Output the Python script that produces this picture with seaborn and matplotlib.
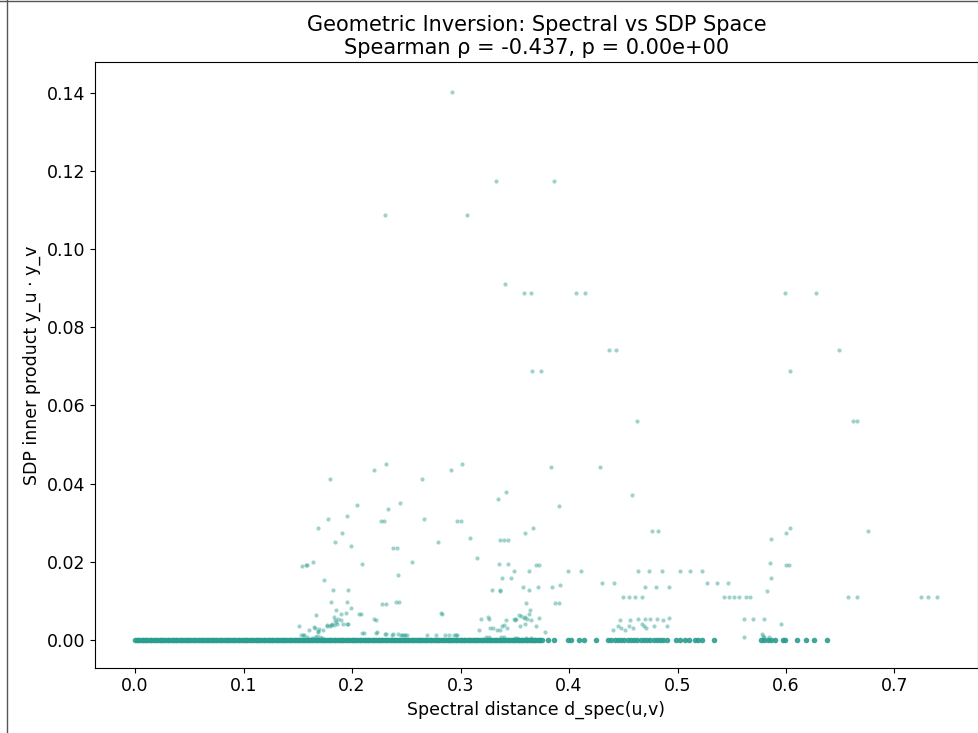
import matplotlib
matplotlib.use("Agg")
import matplotlib.pyplot as plt
from matplotlib.lines import Line2D
import pandas as pd
import seaborn as sns

# scattered (u,v) pairs
spec_dist = [
    0.2920, 0.3330, 0.3857, 0.2302, 0.3064, 0.3413,
    0.3581, 0.3652, 0.4065, 0.4145, 0.5987, 0.6281,
    0.4371, 0.4429, 0.6490, 0.3660, 0.3737, 0.6033,
    0.4622, 0.6614, 0.6657, 0.3832, 0.4289,
    0.2314, 0.3009, 0.2201, 0.2914, 0.1794, 0.2642,
    0.3423, 0.4582, 0.3345, 0.3912,
    0.2048, 0.2445, 0.2330, 0.1775, 0.1950, 0.2666,
    0.2265, 0.2296, 0.2969, 0.3000,
    0.1690, 0.3670, 0.6040, 0.1910, 0.3594, 0.6000,
    0.4766, 0.4821, 0.6758, 0.3085,
    0.3360, 0.3398, 0.3434, 0.5860, 0.1843, 0.2788, 0.1986,
    0.2381, 0.2411, 0.3156, 0.2553, 0.1644,
    0.1537, 0.1576, 0.1589, 0.2094,
    0.3350, 0.3435, 0.5850, 0.3693, 0.3720, 0.6000, 0.6030,
    0.3490, 0.3627, 0.3989, 0.4112,
    0.4637, 0.4738, 0.4858, 0.5020, 0.5112, 0.5225,
    0.2421, 0.3381, 0.3467, 0.5865, 0.1741,
    0.4300, 0.4414, 0.5271, 0.5363, 0.5467,
    0.3575, 0.3842, 0.3921, 0.3712, 0.3627, 0.3367, 0.5822,
    0.4700, 0.4798, 0.4920, 0.1821, 0.1965, 0.3290, 0.3361,
    0.4500, 0.4553, 0.4608, 0.4669,
    0.5433, 0.5479, 0.5525, 0.5571, 0.5632, 0.5669,
    0.6575, 0.6651, 0.7248, 0.7309, 0.7392,
    0.3606, 0.3874, 0.3904,
    0.1803, 0.1956, 0.2277, 0.2314, 0.2402, 0.2433,
    0.3636, 0.1671, 0.1852, 0.1895, 0.1944, 0.1993, 0.2060, 0.2078,
    0.1834, 0.1868, 0.1853, 0.1816, 0.1766, 0.1800, 0.1913, 0.1956,
    0.2204, 0.2219, 0.2822, 0.2831, 0.3254, 0.3260,
    0.3416, 0.3507, 0.3592, 0.3557, 0.3581, 0.3504, 0.3645, 0.3719,
    0.3590, 0.3551, 0.3382, 0.3428, 0.3694, 0.3774,
    0.3189, 0.3296, 0.3363, 0.3402,
    0.4469, 0.4566, 0.4637, 0.4698, 0.4744, 0.4808, 0.4866, 0.4918,
    0.4454, 0.4551, 0.4689, 0.4781, 0.4903, 0.4408, 0.4515,
    0.4475, 0.4585, 0.4714, 0.4677,
    0.5613, 0.5696, 0.5793, 0.5950, 0.5614,
    0.1509, 0.1601, 0.1662, 0.1687, 0.1699,
    0.2087, 0.2109, 0.2219, 0.2228, 0.2310,
    0.2381, 0.2420, 0.2448, 0.2460, 0.2476, 0.2490, 0.2509,
    0.1530, 0.1545, 0.1560,
    0.2694, 0.2777, 0.2853, 0.2893, 0.2938, 0.2955, 0.2969,
    0.1580, 0.1630, 0.1660, 0.1700, 0.1720, 0.1680,
    0.1846, 0.1858, 0.1898, 0.1959, 0.1770, 0.1806, 0.1830,
    0.1653, 0.1690, 0.1729, 0.2305, 0.2372,
    0.3168, 0.3275, 0.3339, 0.3496, 0.3535, 0.3612, 0.3627,
    0.3232, 0.3260, 0.3370, 0.3400, 0.3500, 0.3520, 0.3600, 0.3650,
    0.5780, 0.5790, 0.5800, 0.5840,
]
sdp_inner = [
    0.1404, 0.1175, 0.1175, 0.1087, 0.1087, 0.0911,
    0.0887, 0.0887, 0.0887, 0.0887, 0.0887, 0.0887,
    0.0743, 0.0743, 0.0743, 0.0687, 0.0687, 0.0687,
    0.0559, 0.0559, 0.0559, 0.0442, 0.0442,
    0.0451, 0.0451, 0.0434, 0.0434, 0.0411, 0.0411,
    0.0377, 0.0370, 0.0361, 0.0343,
    0.0344, 0.0350, 0.0334, 0.0310, 0.0317, 0.0310,
    0.0303, 0.0303, 0.0303, 0.0303,
    0.0285, 0.0285, 0.0285, 0.0273, 0.0272, 0.0272,
    0.0279, 0.0279, 0.0279, 0.0260,
    0.0256, 0.0256, 0.0256, 0.0257, 0.0251, 0.0251, 0.0240,
    0.0234, 0.0234, 0.0210, 0.0200, 0.0200,
    0.0189, 0.0192, 0.0192, 0.0193,
    0.0195, 0.0195, 0.0196, 0.0190, 0.0190, 0.0190, 0.0190,
    0.0175, 0.0175, 0.0175, 0.0175,
    0.0175, 0.0175, 0.0175, 0.0175, 0.0175, 0.0175,
    0.0166, 0.0157, 0.0157, 0.0157, 0.0153,
    0.0146, 0.0146, 0.0146, 0.0146, 0.0146,
    0.0134, 0.0134, 0.0140, 0.0134, 0.0128, 0.0125, 0.0125,
    0.0134, 0.0134, 0.0134, 0.0128, 0.0128, 0.0126, 0.0126,
    0.0108, 0.0108, 0.0108, 0.0108,
    0.0108, 0.0108, 0.0108, 0.0108, 0.0108, 0.0108,
    0.0108, 0.0108, 0.0108, 0.0108, 0.0108,
    0.0095, 0.0094, 0.0094,
    0.0096, 0.0096, 0.0092, 0.0092, 0.0096, 0.0096,
    0.0076, 0.0062, 0.0076, 0.0067, 0.0069, 0.0080, 0.0067, 0.0065,
    0.0058, 0.0052, 0.0045, 0.0040, 0.0036, 0.0036, 0.0041, 0.0041,
    0.0053, 0.0050, 0.0069, 0.0065, 0.0058, 0.0052,
    0.0050, 0.0052, 0.0058, 0.0060, 0.0056, 0.0050, 0.0050, 0.0055,
    0.0041, 0.0035, 0.0035, 0.0029, 0.0035, 0.0020,
    0.0052, 0.0030, 0.0024, 0.0037,
    0.0050, 0.0050, 0.0052, 0.0053, 0.0052, 0.0054, 0.0050, 0.0055,
    0.0035, 0.0035, 0.0035, 0.0035, 0.0035, 0.0024, 0.0024,
    0.0030, 0.0030, 0.0030, 0.0041,
    0.0052, 0.0052, 0.0052, 0.0041, 0.0006,
    0.0035, 0.0024, 0.0031, 0.0021, 0.0027,
    0.0018, 0.0016, 0.0016, 0.0020, 0.0014,
    0.0014, 0.0014, 0.0013, 0.0013, 0.0013, 0.0013, 0.0013,
    0.0013, 0.0013, 0.0013,
    0.0012, 0.0012, 0.0012, 0.0012, 0.0012, 0.0012, 0.0012,
    0.0008, 0.0005, 0.0008, 0.0006, 0.0004, 0.0010,
    0.0050, 0.0041, 0.0050, 0.0041, 0.0037, 0.0037, 0.0037,
    0.0033, 0.0020, 0.0024, 0.0014, 0.0013,
    0.0024, 0.0029, 0.0024, 0.0052, 0.0063, 0.0052, 0.0067,
    0.0008, 0.0008, 0.0008, 0.0008, 0.0005, 0.0005, 0.0005, 0.0005,
    0.0015, 0.0010, 0.0008, 0.0006,
]

# pairs whose SDP inner product is zero (the dense band along y = 0)
zero_dist = [
    0.000, 0.003, 0.006, 0.009, 0.012, 0.015, 0.018, 0.021, 0.024, 0.027,
    0.030, 0.033, 0.036, 0.039, 0.042, 0.045, 0.048, 0.051, 0.054, 0.057,
    0.060, 0.063, 0.066, 0.069, 0.072, 0.075, 0.078, 0.081, 0.084, 0.087,
    0.090, 0.093, 0.096, 0.099, 0.102, 0.105, 0.108, 0.111, 0.114, 0.117,
    0.120, 0.123, 0.126, 0.129, 0.132, 0.135, 0.138, 0.141, 0.144, 0.147,
    0.150, 0.153, 0.156, 0.159, 0.162, 0.165, 0.168, 0.171, 0.174, 0.177,
    0.180, 0.183, 0.186, 0.189, 0.192, 0.195, 0.198, 0.201, 0.204, 0.207,
    0.210, 0.213, 0.216, 0.219, 0.222, 0.225, 0.228, 0.231, 0.234, 0.237,
    0.240, 0.243, 0.246, 0.249, 0.252, 0.255, 0.258, 0.261, 0.264, 0.267,
    0.270, 0.273, 0.276, 0.279, 0.282, 0.285, 0.288, 0.291, 0.294, 0.297,
    0.300, 0.303, 0.306, 0.309, 0.312, 0.315, 0.318, 0.321, 0.324, 0.327,
    0.330, 0.333, 0.336, 0.339, 0.342, 0.345, 0.348, 0.351, 0.354, 0.357,
    0.360, 0.363, 0.366, 0.369, 0.372, 0.375,
    0.0015, 0.0045, 0.0075, 0.0105, 0.0135, 0.0165, 0.0195, 0.0225, 0.0255, 0.0285,
    0.0315, 0.0345, 0.0375, 0.0405, 0.0435, 0.0465, 0.0495, 0.0525, 0.0555, 0.0585,
    0.0615, 0.0645, 0.0675, 0.0705, 0.0735, 0.0765, 0.0795, 0.0825, 0.0855, 0.0885,
    0.0915, 0.0945, 0.0975, 0.1005, 0.1035, 0.1065, 0.1095, 0.1125, 0.1155, 0.1185,
    0.1215, 0.1245, 0.1275, 0.1305, 0.1335, 0.1365, 0.1395, 0.1425, 0.1455, 0.1485,
    0.1515, 0.1545, 0.1575, 0.1605, 0.1635, 0.1665, 0.1695, 0.1725, 0.1755, 0.1785,
    0.1815, 0.1845, 0.1875, 0.1905, 0.1935, 0.1965, 0.1995, 0.2025, 0.2055, 0.2085,
    0.2115, 0.2145, 0.2175, 0.2205, 0.2235, 0.2265, 0.2295, 0.2325, 0.2355, 0.2385,
    0.2415, 0.2445, 0.2475, 0.2505, 0.2535, 0.2565, 0.2595, 0.2625, 0.2655, 0.2685,
    0.2715, 0.2745, 0.2775, 0.2805, 0.2835, 0.2865, 0.2895, 0.2925, 0.2955, 0.2985,
    0.3015, 0.3045, 0.3075, 0.3105, 0.3135, 0.3165, 0.3195, 0.3225, 0.3255, 0.3285,
    0.3315, 0.3345, 0.3375, 0.3405, 0.3435, 0.3465, 0.3495, 0.3525, 0.3555, 0.3585,
    0.3615, 0.3645, 0.3675, 0.3705, 0.3735,
    0.381, 0.386, 0.399, 0.402, 0.409, 0.414, 0.425,
    0.436, 0.439, 0.442, 0.445, 0.448, 0.451, 0.454, 0.457, 0.460, 0.463,
    0.466, 0.469, 0.472, 0.475, 0.478, 0.481, 0.484, 0.487, 0.490,
    0.499, 0.502, 0.507, 0.511, 0.516, 0.519, 0.523, 0.534,
    0.577, 0.580, 0.583, 0.586, 0.590, 0.597, 0.599, 0.610, 0.618, 0.626, 0.638,
]

teal = "#2a9d8f"

pts = pd.DataFrame({"d_spec": spec_dist, "inner": sdp_inner})
zero = pd.DataFrame({"d_spec": zero_dist, "inner": [0.0] * len(zero_dist)})

plt.rcParams["font.family"] = ["DejaVu Sans"]
fig = plt.figure(figsize=(9.79, 7.33), dpi=100)
ax = fig.add_axes([0.097, 0.089, 0.902, 0.826])

sns.scatterplot(data=zero, x="d_spec", y="inner", ax=ax, color=teal,
                s=16, alpha=0.9, linewidth=0)
sns.scatterplot(data=pts, x="d_spec", y="inner", ax=ax, color=teal,
                s=9, alpha=0.45, linewidth=0)

ax.set_xlim(-0.037, 0.777)
ax.set_ylim(-0.0072, 0.1479)
ax.set_xticks([0.0, 0.1, 0.2, 0.3, 0.4, 0.5, 0.6, 0.7])
ax.set_yticks([0.00, 0.02, 0.04, 0.06, 0.08, 0.10, 0.12, 0.14])
ax.set_yticklabels(["0.00", "0.02", "0.04", "0.06", "0.08", "0.10", "0.12", "0.14"])
ax.tick_params(labelsize=12.5)
ax.set_xlabel("Spectral distance d_spec(u,v)", fontsize=12.5)
ax.set_ylabel("SDP inner product y_u · y_v", fontsize=12.5)
ax.set_title("Geometric Inversion: Spectral vs SDP Space\nSpearman ρ = -0.437, p = 0.00e+00",
             fontsize=15)

# frame of the cropped screenshot
fig.add_artist(Line2D([0.007, 0.007], [0, 1], color="#555555", lw=1))
fig.add_artist(Line2D([0, 1], [0.999, 0.999], color="#555555", lw=1))

fig.savefig("out.png", dpi=100)
